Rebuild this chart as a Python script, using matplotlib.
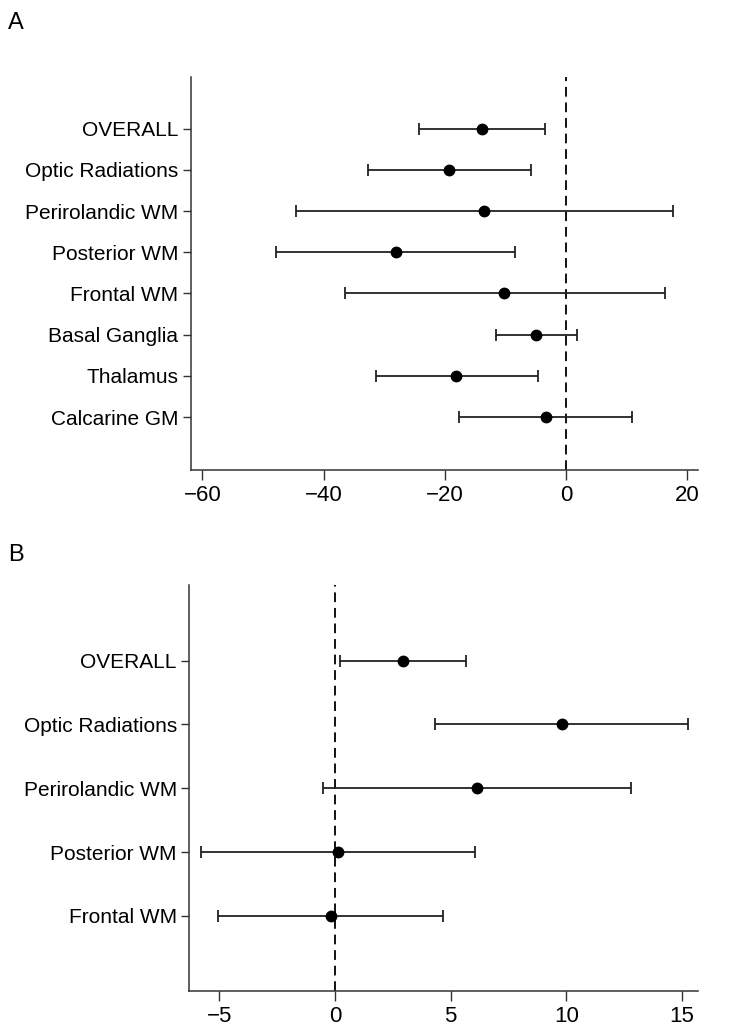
import matplotlib.pyplot as plt

plt.rcParams['font.family'] = ['Liberation Sans', 'DejaVu Sans']

# panel A
labels_a = ["OVERALL", "Optic Radiations", "Perirolandic WM", "Posterior WM",
            "Frontal WM", "Basal Ganglia", "Thalamus", "Calcarine GM"]
est_a = [-13.9, -19.3, -13.5, -28.1, -10.2, -4.9, -18.1, -3.4]
low_a = [-24.3, -32.7, -44.6, -47.9, -36.5, -11.5, -31.3, -17.7]
high_a = [-3.5, -5.8, 17.6, -8.4, 16.3, 1.8, -4.7, 10.8]
ticks_a = [-60, -40, -20, 0, 20]

# panel B
labels_b = ["OVERALL", "Optic Radiations", "Perirolandic WM", "Posterior WM", "Frontal WM"]
est_b = [2.93, 9.79, 6.12, 0.13, -0.19]
low_b = [0.2, 4.31, -0.53, -5.79, -5.04]
high_b = [5.65, 15.27, 12.78, 6.05, 4.67]
ticks_b = [-5, 0, 5, 10, 15]


def forest(ax, labels, est, low, high, ticks, xlim, ylim):
    ys = [-i for i in range(len(labels))]
    xerr = [[e - l for e, l in zip(est, low)], [h - e for e, h in zip(est, high)]]
    ax.axvline(0, color='#111111', lw=1.4, ls=(0, (5, 3)), zorder=1)
    ax.errorbar(est, ys, xerr=xerr, fmt='o', color='black', ecolor='#222222',
                elinewidth=1.3, capsize=4, capthick=1.3, markersize=7.5, zorder=3)
    ax.set_yticks(ys)
    ax.set_yticklabels(labels)
    ax.set_xticks(ticks)
    ax.set_xticklabels([str(t).replace('-', '\u2212') for t in ticks])
    ax.set_xlim(*xlim)
    ax.set_ylim(*ylim)
    for s in ['top', 'right']:
        ax.spines[s].set_visible(False)
    for s in ['left', 'bottom']:
        ax.spines[s].set_color('#333333')
        ax.spines[s].set_linewidth(1.1)
    ax.tick_params(axis='y', length=6, width=1.0, color='#333333', labelsize=15, pad=3)
    ax.tick_params(axis='x', length=7, width=1.0, color='#333333', labelsize=16, pad=4)


fig = plt.figure(figsize=(7.46, 10.29), dpi=100)
ax_a = fig.add_axes([0.256, 0.5432, 0.680, 0.3823])
ax_b = fig.add_axes([0.2538, 0.0369, 0.6822, 0.3946])

forest(ax_a, labels_a, est_a, low_a, high_a, ticks_a, (-61.9, 21.8), (-8.286, 1.262))
forest(ax_b, labels_b, est_b, low_b, high_b, ticks_b, (-6.3, 15.7), (-5.18, 1.187))

fig.text(0.011, 0.988, "A", fontsize=17, va='top', ha='left')
fig.text(0.011, 0.471, "B", fontsize=17, va='top', ha='left')

plt.savefig("out.png", dpi=100)
plt.close()
